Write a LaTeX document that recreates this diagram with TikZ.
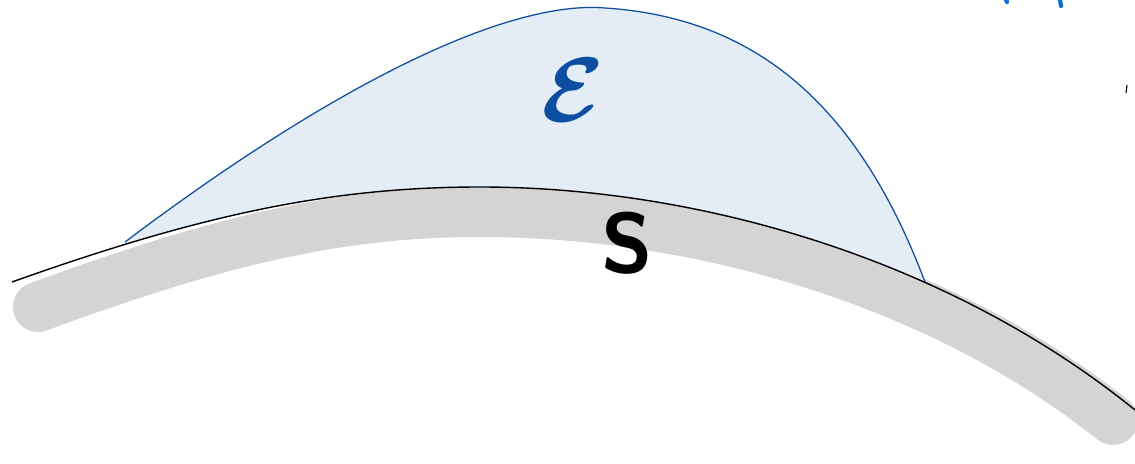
\documentclass[tikz,border=0pt]{standalone}
\usepackage{amsmath}
\definecolor{bandgray}{HTML}{D4D4D4}
\definecolor{regionfill}{HTML}{E4ECF5}
\definecolor{regionline}{HTML}{0D4EA0}
\definecolor{inkblue}{HTML}{0A6FD8}
\begin{document}
\begin{tikzpicture}[x=0.025cm,y=-0.025cm]
\useasboundingbox (0,0) rectangle (1135,464);

% thick gray band under the surface
\draw[bandgray,line width=1.25cm,line cap=round]
  (38,307) .. controls (220,240) and (340,212) .. (480,212)
  .. controls (700,212) and (940,282) .. (1113,420);

% region E, clipped above the surface
\begin{scope}
\clip (12,282) .. controls (200,215) and (330,187) .. (480,187)
  .. controls (700,187) and (950,260) .. (1135,410) -- (1135,0) -- (0,0) -- cycle;
\fill[regionfill] (125,242) .. controls (340,80) and (510,0) .. (605,8)
  .. controls (760,18) and (860,110) .. (925,282) -- (925,320) -- (125,320) -- cycle;
\end{scope}
\draw[regionline,line width=0.9pt] (125,242) .. controls (340,80) and (510,0) .. (605,8)
  .. controls (760,18) and (860,110) .. (925,282);

% the surface S
\draw[black,line width=1pt] (12,282) .. controls (200,215) and (330,187) .. (480,187)
  .. controls (700,187) and (950,260) .. (1135,410);

\node[regionline,scale=6.5] (elabel) at (573,90) {$\boldsymbol{\mathcal{E}}$};
\node[scale=6] (slabel) at (627,243) {\sffamily\bfseries S};

% cut-off strokes at the top right
\draw[inkblue,line width=3pt,line cap=round] (1006,0) -- (1007,2);
\draw[inkblue,line width=3pt,line cap=round] (1060,0) -- (1061,6);
\draw[black,line width=0.8pt] (1127,85) -- (1126,93);
\end{tikzpicture}
\end{document}
